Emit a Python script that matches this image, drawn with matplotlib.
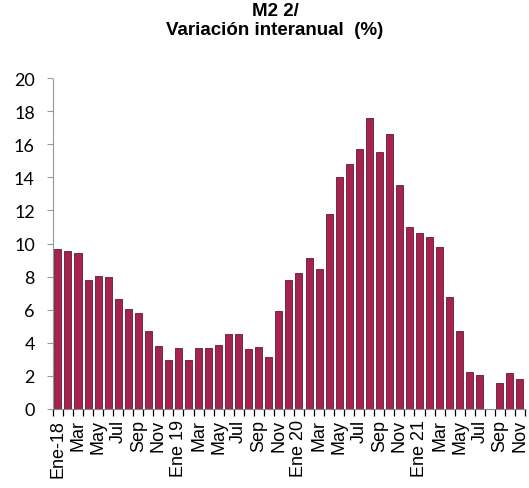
import numpy as np
import matplotlib
matplotlib.use("Agg")
from matplotlib import pyplot as plt

# monthly data Ene-18 .. Nov-21 (Aug-21 not reported)
values = [9.66, 9.54, 9.45, 7.80, 8.06, 8.00, 6.63, 6.02, 5.78, 4.71, 3.82, 2.93,
          3.66, 2.93, 3.66, 3.70, 3.86, 4.53, 4.55, 3.62, 3.76, 3.17, 5.94, 7.82,
          8.22, 9.15, 8.46, 11.76, 14.00, 14.79, 15.70, 17.60, 15.50, 16.60, 13.56, 10.97,
          10.65, 10.40, 9.78, 6.79, 4.73, 2.26, 2.06, np.nan, 1.60, 2.18, 1.84]
tick_labels = ["Ene-18", "Mar", "May", "Jul", "Sep", "Nov",
               "Ene 19", "Mar", "May", "Jul", "Sep", "Nov",
               "Ene 20", "Mar", "May", "Jul", "Sep", "Nov",
               "Ene 21", "Mar", "May", "Jul", "Sep", "Nov"]
yticks = list(range(0, 21, 2))

x = np.arange(len(values))

fig = plt.figure(figsize=(5.29, 4.89), dpi=100)
ax = fig.add_axes([0.100, 0.1616, 0.8924, 0.6768])

ax.bar(x, values, width=0.7, color="#A6224F", edgecolor="#722A44", linewidth=0.7)

ax.set_xlim(-0.5, len(values) - 0.5)
ax.set_ylim(0, 20)
ax.set_yticks(yticks)
ax.set_yticklabels([str(v) for v in yticks], fontsize=13, family="Lato")
ax.tick_params(axis="y", length=4, width=0.8, color="#999999", pad=9)

ax.set_xticks(x[::2])
ax.set_xticklabels(tick_labels, rotation=90, fontsize=13, family="Liberation Sans",
                   va="top", ha="center")
ax.set_xticks(np.arange(len(values) + 1) - 0.5, minor=True)
ax.tick_params(axis="x", which="major", length=0, pad=7)
ax.tick_params(axis="x", which="minor", length=5, width=0.9, color="black")

for s in ["top", "right"]:
    ax.spines[s].set_visible(False)
ax.spines["left"].set_color("#999999")
ax.spines["left"].set_linestyle((0, (1, 1)))
ax.spines["left"].set_linewidth(0.8)
ax.spines["bottom"].set_color("#888888")
ax.spines["bottom"].set_linewidth(0.8)

fig.text(0.52, 0.957, "M2 2/\nVariación interanual  (%)", ha="center", va="center",
         fontsize=13.5, fontweight="bold", family="Liberation Sans", linespacing=1.15)

fig.savefig("out.png", dpi=100)
